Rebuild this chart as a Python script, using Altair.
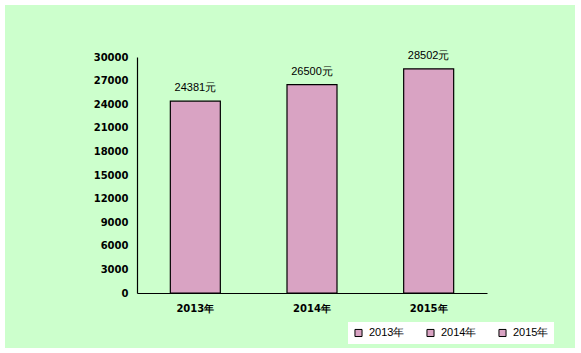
import altair as alt
import pandas as pd

years = ["2013年", "2014年", "2015年"]
values = [24381, 26500, 28502]
labels = ["24381元", "26500元", "28502元"]

df = pd.DataFrame({"year": years, "value": values, "label": labels})

BAR = "#d9a3c3"
GREEN = "#CCFFCC"

bg = alt.Chart(pd.DataFrame({"a": [0]})).mark_rect(color=GREEN).encode(
    x=alt.value(-132), x2=alt.value(438), y=alt.value(-52), y2=alt.value(291)
)

xenc = alt.X("year:N", sort=years,
             scale=alt.Scale(paddingInner=0, paddingOuter=0),
             axis=alt.Axis(title=None, labelAngle=0, ticks=False, tickSize=0,
                           labelPadding=10, labelFont="DejaVu Sans", labelFontSize=10,
                           labelFontWeight="bold", labelColor="black", zindex=1,
                           domainColor="black", domainWidth=1.2, grid=False))

bars = alt.Chart(df).mark_bar(size=50, stroke="black", strokeWidth=1.2).encode(
    x=xenc,
    y=alt.Y("value:Q", scale=alt.Scale(domain=[0, 30000], nice=False),
            axis=alt.Axis(title=None, values=list(range(0, 30001, 3000)), tickCount=11,
                          ticks=False, tickSize=0, labelPadding=9, labelFont="DejaVu Sans",
                          labelFontSize=10, labelFontWeight="bold", labelColor="black",
                          format="d", labelOverlap=False, zindex=1,
                          domainColor="black", domainWidth=1.2, grid=False)),
    color=alt.Color("year:N", sort=years,
                    scale=alt.Scale(domain=years, range=[BAR, BAR, BAR]),
                    legend=alt.Legend(title=None, orient="none", direction="horizontal",
                                      legendX=211, legendY=265, fillColor="white",
                                      padding=5, symbolType="square", symbolSize=50,
                                      symbolStrokeColor="black", symbolStrokeWidth=1,
                                      symbolOpacity=1,
                                      labelFont="Liberation Sans", labelFontSize=11,
                                      labelColor="black", labelOffset=5,
                                      columnPadding=19)),
)

text = alt.Chart(df).mark_text(dy=-13, baseline="middle", font="Liberation Sans",
                               fontSize=11, color="black").encode(
    x=alt.X("year:N", sort=years), y="value:Q", text="label:N"
)

chart = alt.layer(bg, bars, text).properties(
    width=350, height=236,
    autosize=alt.AutoSizeParams(type="none"),
    padding={"left": 137, "top": 57, "right": 94, "bottom": 60},
    background="white",
).configure_view(stroke=None)

chart.save("out.html", embed_options={"renderer": "svg", "actions": False})
